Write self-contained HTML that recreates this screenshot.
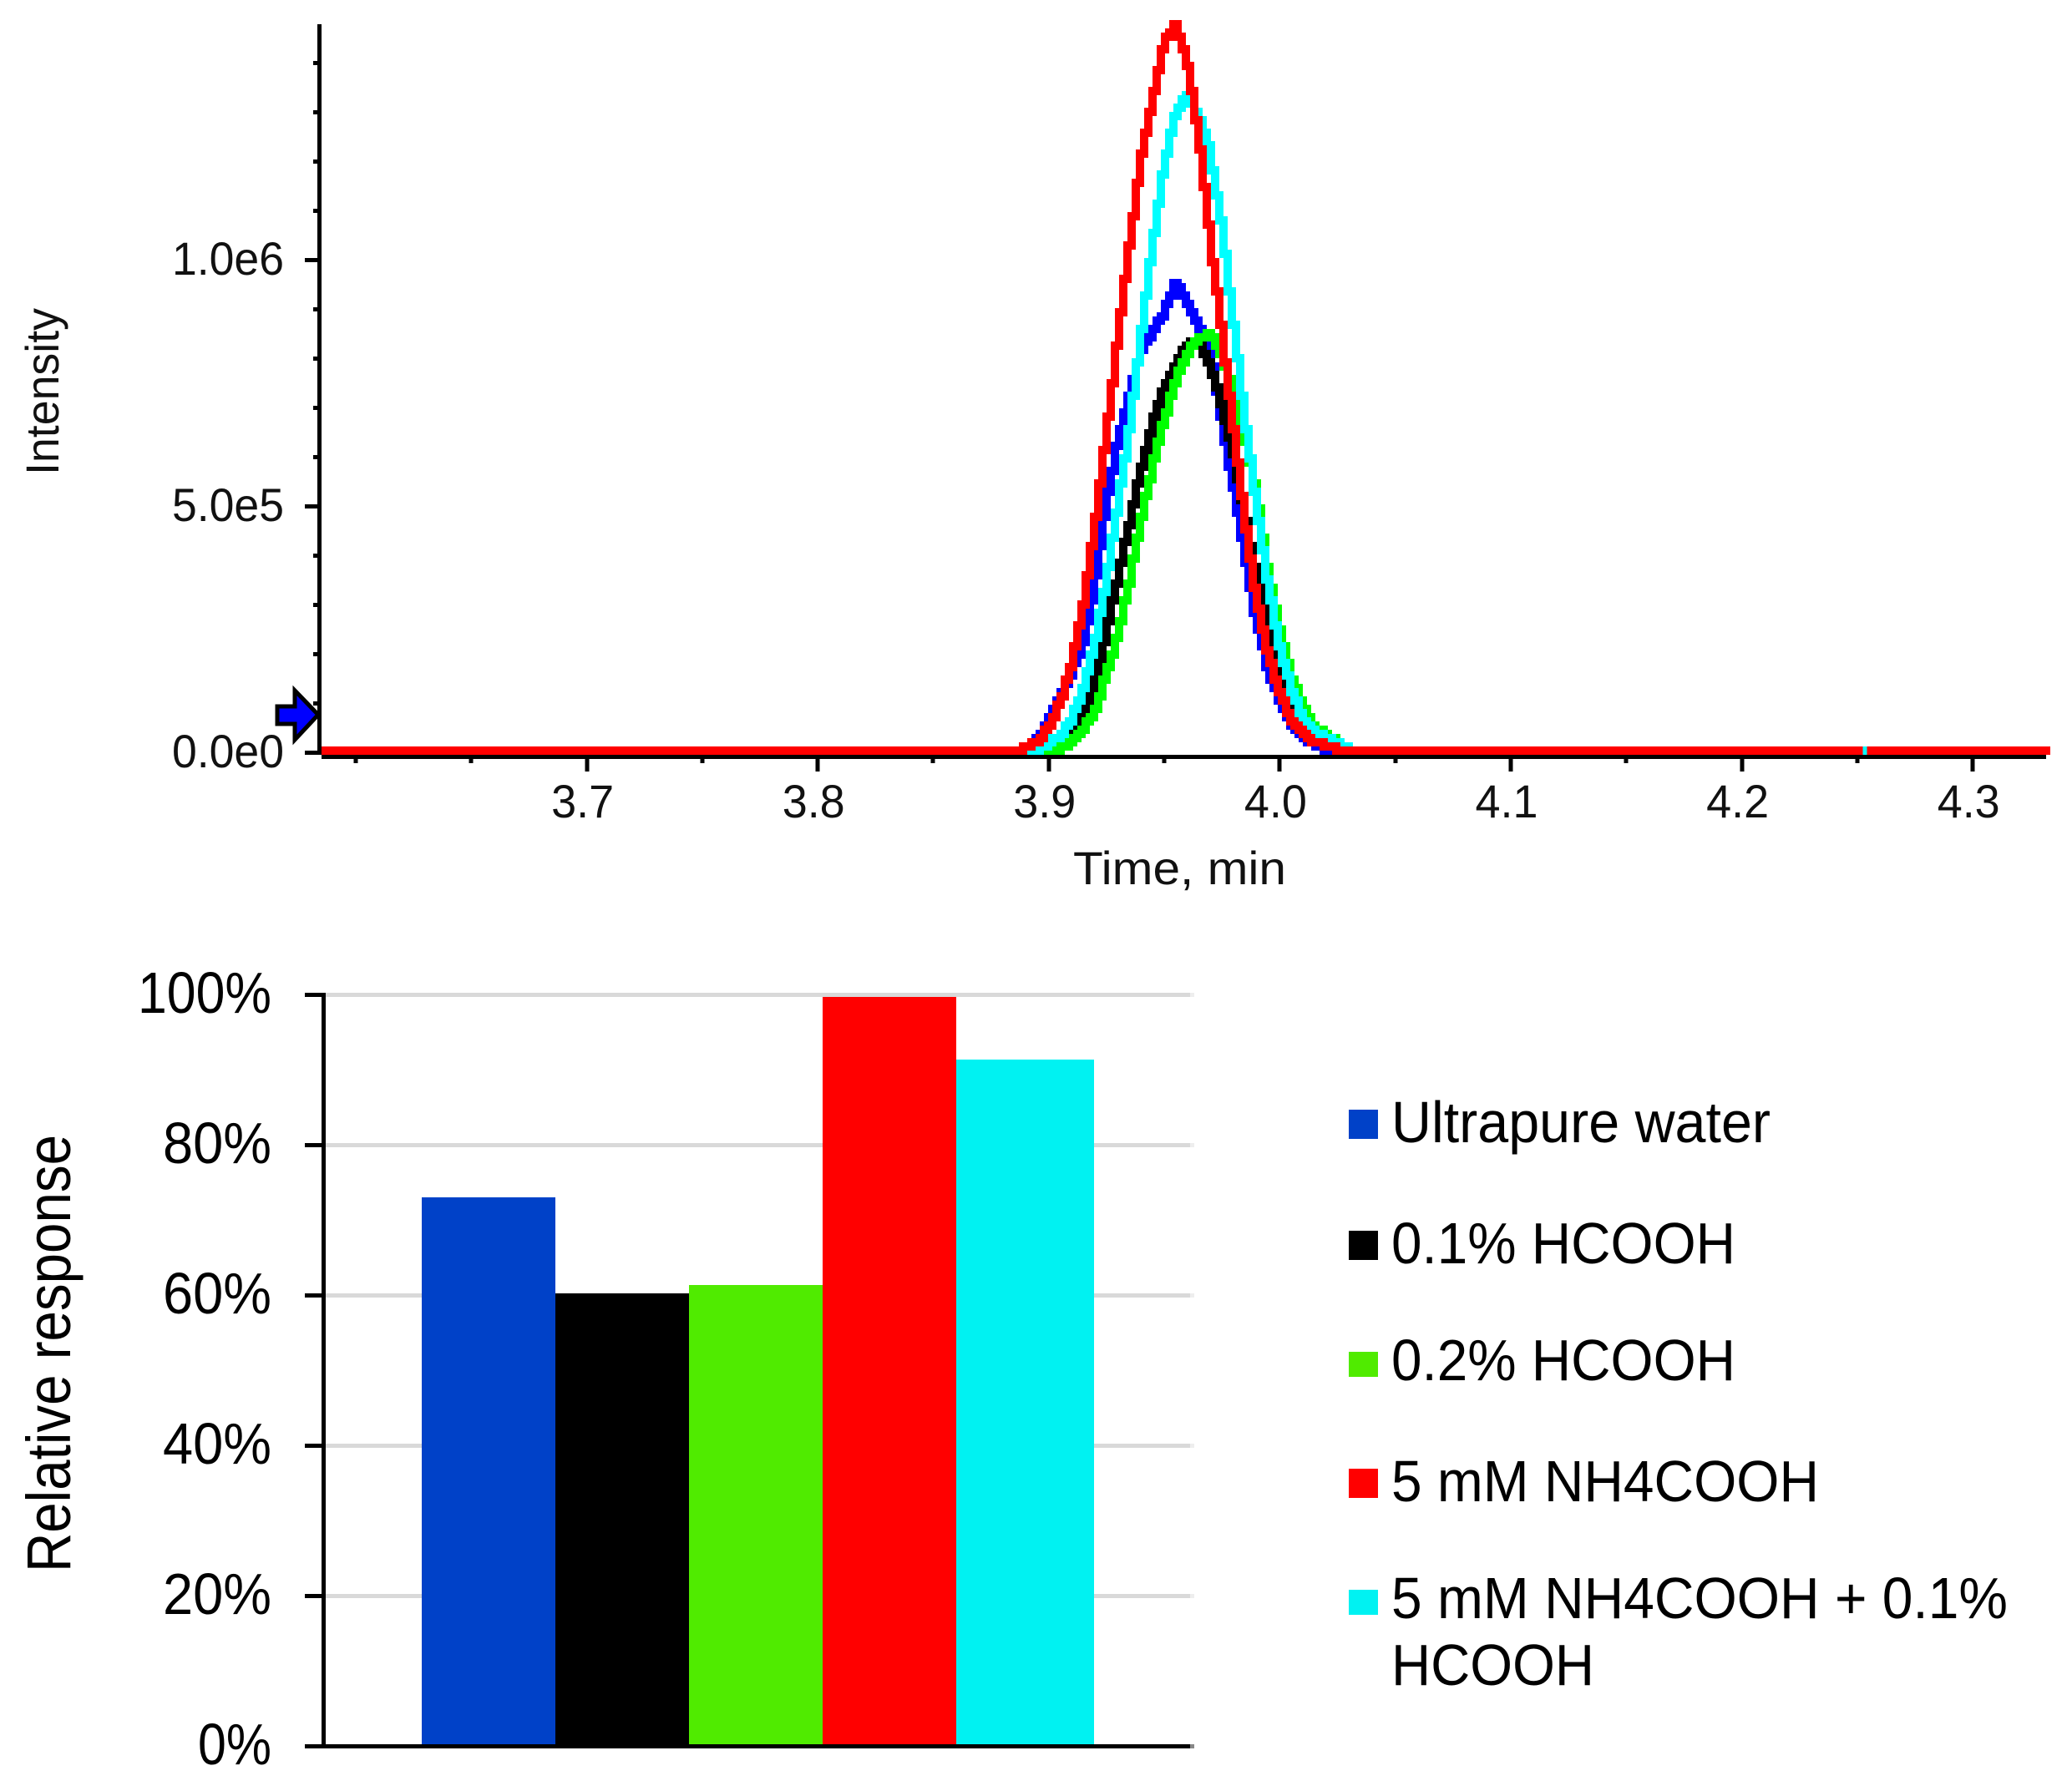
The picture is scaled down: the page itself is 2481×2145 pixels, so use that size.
<!DOCTYPE html>
<html lang="en">
<head>
<meta charset="utf-8">
<title>Chromatogram and relative response</title>
<style>
html,body{margin:0;padding:0;background:#fff;}
svg{display:block;}
text{font-family:"Liberation Sans",sans-serif;}
.top-text{font-size:56px;fill:#111;}
.bot-text{font-size:70px;fill:#000;}
.crisp{shape-rendering:crispEdges;}
</style>
</head>
<body>
<svg id="figure" xmlns="http://www.w3.org/2000/svg" width="2481" height="2145" viewBox="0 0 2481 2145">
  <rect x="0" y="0" width="2481" height="2145" fill="#fff"/>

  <g id="top-chart">
    <g id="top-ticks"></g>
    <g id="top-series"></g>
    <rect class="crisp" x="380" y="29" width="5" height="875" fill="#000"/>
    <rect class="crisp" x="385" y="904" width="2065" height="5" fill="#000"/>
    <polygon points="332,846 353,846 353,827 381,856 353,886 353,867 332,867" fill="#0000ff" stroke="#000" stroke-width="5" stroke-linejoin="miter"/>
    <text class="top-text" transform="translate(70,569) rotate(-90)" textLength="200" lengthAdjust="spacingAndGlyphs">Intensity</text>
    <text class="top-text" x="1285" y="1059" textLength="255" lengthAdjust="spacingAndGlyphs">Time, min</text>
  </g>

  <g id="bottom-chart">
    <g id="bottom-grid"></g>
    <g id="bottom-bars"></g>
    <rect class="crisp" x="385" y="1189" width="5" height="905" fill="#000"/>
    <rect class="crisp" x="365" y="2089" width="1060" height="5" fill="#000"/>
    <rect class="crisp" x="1425" y="2089" width="5" height="5" fill="#888"/>
    <text class="bot-text" style="font-size:74px" transform="translate(84,1883) rotate(-90)" textLength="524" lengthAdjust="spacingAndGlyphs">Relative response</text>
  </g>

  <g id="legend">
    <g>
      <rect class="crisp" x="1615" y="1329" width="35" height="35" fill="#0041c8"/>
      <text class="bot-text" x="1666" y="1368" textLength="454" lengthAdjust="spacingAndGlyphs">Ultrapure water</text>
    </g>
    <g>
      <rect class="crisp" x="1615" y="1474" width="35" height="35" fill="#000"/>
      <text class="bot-text" x="1666" y="1513" textLength="412" lengthAdjust="spacingAndGlyphs">0.1% HCOOH</text>
    </g>
    <g>
      <rect class="crisp" x="1615" y="1619" width="35" height="30" fill="#50eb00"/>
      <text class="bot-text" x="1666" y="1653" textLength="412" lengthAdjust="spacingAndGlyphs">0.2% HCOOH</text>
    </g>
    <g>
      <rect class="crisp" x="1615" y="1759" width="35" height="35" fill="#ff0000"/>
      <text class="bot-text" x="1666" y="1798" textLength="512" lengthAdjust="spacingAndGlyphs">5 mM NH4COOH</text>
    </g>
    <g>
      <rect class="crisp" x="1615" y="1904" width="35" height="30" fill="#00f2f2"/>
      <text class="bot-text" x="1666" y="1938" textLength="738" lengthAdjust="spacingAndGlyphs">5 mM NH4COOH + 0.1%</text>
      <text class="bot-text" x="1666" y="2018" textLength="243" lengthAdjust="spacingAndGlyphs">HCOOH</text>
    </g>
  </g>
</svg>

<script>
// ---- Chromatogram data (intensity in units of 1e6) ----
const timeMin = [3.585, 3.88, 3.885, 3.89, 3.895, 3.9, 3.905, 3.91, 3.915, 3.92, 3.925, 3.93, 3.935, 3.94, 3.945, 3.95, 3.955, 3.96, 3.965, 3.97, 3.975, 3.98, 3.985, 3.99, 3.995, 4.0, 4.005, 4.01, 4.015, 4.02, 4.025, 4.03, 4.035, 4.3335];
const intensityWater = [0, 0, 0, .003, .022, .059, .107, .158, .217, .340, .500, .627, .720, .812, .849, .890, .950, .912, .863, .814, .666, .536, .397, .261, .166, .103, .056, .030, .012, .003, 0, 0, 0, 0];
const intensityFormic01 = [0, 0, 0, 0, 0, .003, .010, .031, .076, .142, .242, .351, .461, .569, .667, .734, .781, .825, .832, .778, .703, .603, .480, .349, .236, .146, .081, .047, .027, .017, .007, 0, 0, 0];
const intensityFormic02 = [0, 0, 0, 0, 0, 0, .005, .017, .042, .081, .153, .237, .344, .466, .575, .671, .751, .803, .839, .846, .800, .731, .641, .522, .361, .244, .154, .090, .049, .032, .017, .003, 0, 0];
const intensityFormate = [0, 0, 0, .005, .017, .046, .098, .176, .295, .459, .644, .836, 1.025, 1.205, 1.322, 1.436, 1.476, 1.402, 1.249, 1.037, .851, .658, .469, .307, .197, .119, .064, .034, .019, .010, .002, 0, 0, 0];
const intensityFormateFormic = [0, 0, 0, 0, .003, .014, .029, .063, .124, .217, .347, .500, .654, .842, 1.029, 1.188, 1.295, 1.330, 1.290, 1.215, 1.064, .871, .673, .498, .337, .214, .125, .068, .041, .025, .015, .005, 0, 0];
const xMajorTicks = [3.7, 3.8, 3.9, 4.0, 4.1, 4.2, 4.3];
const xMajorLabels = ["3.7", "3.8", "3.9", "4.0", "4.1", "4.2", "4.3"];
const xMinorTicks = [3.6, 3.65, 3.75, 3.85, 3.95, 4.05, 4.15, 4.25];
const yMajorTicks = [0, 0.5, 1.0];
const yMajorLabels = ["0.0e0", "5.0e5", "1.0e6"];
const yMinorTicks = [0.1, 0.2, 0.3, 0.4, 0.6, 0.7, 0.8, 0.9, 1.1, 1.2, 1.3, 1.4];
const baselineGlitchTime = [4.2532];

// ---- Bar chart data ----
const barCategories = ["Ultrapure water", "0.1% HCOOH", "0.2% HCOOH", "5 mM NH4COOH", "5 mM NH4COOH + 0.1% HCOOH"];
const barValues = [73.06, 60.3, 61.4, 99.7, 91.4];
const percentTicks = [0, 20, 40, 60, 80, 100];
const percentLabels = ["0%", "20%", "40%", "60%", "80%", "100%"];

// ---- Scales ----
const NS = "http://www.w3.org/2000/svg";
function xTime(t) { return 702.6 + (t - 3.7) * 2766; }
function yTickPos(v) { return 901.5 - v * 590; }
function yLine(v) { return 899 - v * 590; }
function yPct(p) { return 2091.5 - p * 9; }
function make(tag, parent, attrs) {
  const el = document.createElementNS(NS, tag);
  for (const k in attrs) el.setAttribute(k, attrs[k]);
  parent.appendChild(el);
  return el;
}
function slug(s) { return String(s).toLowerCase().replace(/[^a-z0-9]+/g, "-").replace(/^-|-$/g, ""); }

// ---- Chromatogram axes ----
const topTicks = document.getElementById("top-ticks");
xMajorTicks.forEach(function (t, i) {
  const tick = make("rect", topTicks, { x: Math.round(xTime(t)) - 2.5, y: 904, width: 5, height: 20, fill: "#000", class: "crisp" });
  
  
  const label = make("text", topTicks, { x: xTime(t) - 5, y: 979, "text-anchor": "middle", class: "top-text", textLength: 75, lengthAdjust: "spacingAndGlyphs" });
  label.textContent = xMajorLabels[i];
  
  
});
xMinorTicks.forEach(function (t) {
  const tick = make("rect", topTicks, { x: Math.round(xTime(t)) - 2.5, y: 904, width: 5, height: 10, fill: "#000", class: "crisp" });
  
  
});
yMajorTicks.forEach(function (v, i) {
  const tick = make("rect", topTicks, { x: 365, y: yTickPos(v) - 2.5, width: 15, height: 5, fill: "#000", class: "crisp" });
  
  
  const label = make("text", topTicks, { x: 340, y: yTickPos(v) + 17.5, "text-anchor": "end", class: "top-text", textLength: 134, lengthAdjust: "spacingAndGlyphs" });
  label.textContent = yMajorLabels[i];
  
  
});
yMinorTicks.forEach(function (v) {
  const tick = make("rect", topTicks, { x: 375, y: yTickPos(v) - 2.5, width: 5, height: 5, fill: "#000", class: "crisp" });
  
  
});

// ---- Chromatogram traces: stepped to the coarse pixel grid of the source ----
function steppedPath(times, values) {
  const xs = times.map(xTime);
  const x0 = Math.round(xs[0] / 5) * 5;
  const x1 = Math.round(xs[xs.length - 1] / 5) * 5;
  let d = "";
  let j = 0;
  let prevY = null;
  for (let x = x0; x <= x1; x += 5) {
    const sx = x + 2.5;
    while (j < xs.length - 2 && xs[j + 1] < sx) j++;
    const f = Math.max(0, Math.min(1, (sx - xs[j]) / (xs[j + 1] - xs[j])));
    const y = yLine(values[j] + (values[j + 1] - values[j]) * f);
    const sy = Math.round((y - 4) / 5) * 5 + 4;
    if (prevY === null) d += "M" + x + " " + sy;
    else if (sy !== prevY) d += "H" + x + "V" + sy;
    prevY = sy;
  }
  d += "H" + x1;
  return d;
}
const topSeries = document.getElementById("top-series");
const waterTrace = make("path", topSeries, { d: steppedPath(timeMin, intensityWater), fill: "none", stroke: "#0000ff", "stroke-width": 10, class: "crisp" });


const formic01Trace = make("path", topSeries, { d: steppedPath(timeMin, intensityFormic01), fill: "none", stroke: "#000000", "stroke-width": 10, class: "crisp" });


const formic02Trace = make("path", topSeries, { d: steppedPath(timeMin, intensityFormic02), fill: "none", stroke: "#00ff00", "stroke-width": 10, class: "crisp" });


const mixTrace = make("path", topSeries, { d: steppedPath(timeMin, intensityFormateFormic), fill: "none", stroke: "#00ffff", "stroke-width": 10, class: "crisp" });


const formateTrace = make("path", topSeries, { d: steppedPath(timeMin, intensityFormate), fill: "none", stroke: "#ff0000", "stroke-width": 10, class: "crisp" });


baselineGlitchTime.forEach(function (t) {
  const spot = make("rect", topSeries, { x: Math.round(xTime(t)) - 2.5, y: 894, width: 5, height: 10, fill: "#00ffff", class: "crisp" });
  
  
});

// ---- Bar chart ----
const bottomGrid = document.getElementById("bottom-grid");
percentTicks.forEach(function (p, i) {
  if (p > 0) {
    const line = make("rect", bottomGrid, { x: 390, y: yPct(p) - 2.5, width: 1035, height: 5, fill: "#d9d9d9", class: "crisp" });
    
    
    const end = make("rect", bottomGrid, { x: 1425, y: yPct(p) - 2.5, width: 5, height: 5, fill: "#eeeeee", class: "crisp" });
    
    
    const tick = make("rect", bottomGrid, { x: 365, y: yPct(p) - 2.5, width: 20, height: 5, fill: "#000", class: "crisp" });
    
    
  }
  const lenByChars = { 2: 88, 3: 130, 4: 160 };
  const label = make("text", bottomGrid, { x: 325, y: yPct(p) + 21.5, "text-anchor": "end", class: "bot-text", textLength: lenByChars[percentLabels[i].length], lengthAdjust: "spacingAndGlyphs" });
  label.textContent = percentLabels[i];
  
  
});
const bottomBars = document.getElementById("bottom-bars");
const barFills = ["#0041c8", "#000000", "#50eb00", "#ff0000", "#00f2f2"];
barValues.forEach(function (v, i) {
  const top = Math.round(yPct(v));
  const bar = make("rect", bottomBars, { x: 505 + i * 160, y: top, width: i === 4 ? 165 : 160, height: 2089 - top, fill: barFills[i], class: "crisp" });
  
  
});
</script>
</body>
</html>
